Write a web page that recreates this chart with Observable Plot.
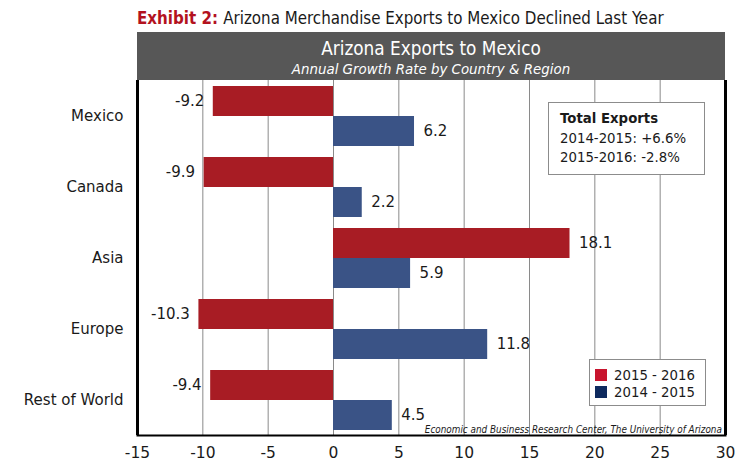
<!DOCTYPE html>
<html>
<head>
<meta charset="utf-8">
<script src="https://cdn.jsdelivr.net/npm/d3@7"></script>
<script src="https://cdn.jsdelivr.net/npm/@observablehq/plot@0.6"></script>
<style>
  body { margin: 0; background: #fff; width: 744px; height: 469px; position: relative; overflow: hidden; font-family: "DejaVu Sans", Verdana, sans-serif; color: #1a1a1a; }
  .cond { font-family: "DejaVu Sans Condensed", "DejaVu Sans", sans-serif; font-stretch: condensed; }
  #title { position: absolute; left: 137px; top: 8px; font-size: 16.8px; white-space: nowrap; }
  #title b { color: #b3121e; }
  #band { position: absolute; left: 137px; top: 32px; width: 588px; height: 48px; background: #575757; color: #fff; text-align: center; }
  #band .t { position: absolute; left: 0; right: 0; top: 6px; font-size: 18.8px; }
  #band .s { position: absolute; left: 0; right: 0; top: 30px; font-size: 13.4px; font-style: italic; }
  #chart { position: absolute; left: 0; top: 80px; }
  #totals { position: absolute; left: 548px; top: 102px; width: 157px; height: 73px; border: 1px solid #8c8c8c; background: #fff; font-size: 13.3px; line-height: 19.5px; box-sizing: border-box; padding: 6px 0 0 11px; white-space: nowrap; }
  #legend { position: absolute; left: 589px; top: 359px; width: 117px; height: 47px; border: 1px solid #8c8c8c; background: #fff; font-size: 13.3px; box-sizing: border-box; }
  #legend .row { position: absolute; left: 5px; height: 14px; display: flex; align-items: center; white-space: nowrap; }
  #legend .sw { width: 12px; height: 12px; margin-right: 7px; }
  #source { position: absolute; right: 22px; top: 423px; font-size: 11px; font-style: italic; white-space: nowrap; transform: scaleX(0.895); transform-origin: right center; }
</style>
</head>
<body>
<script>
// ---- data ----
const regions = ["Mexico", "Canada", "Asia", "Europe", "Rest of World"];
const series = ["2015 - 2016", "2014 - 2015"];
const growth2015_2016 = [-9.2, -9.9, 18.1, -10.3, -9.4];
const growth2014_2015 = [6.2, 2.2, 5.9, 11.8, 4.5];
const xTicks = [-15, -10, -5, 0, 5, 10, 15, 20, 25, 30];
const titleLead = "Exhibit 2:";
const titleText = "Arizona Merchandise Exports to Mexico Declined Last Year";
const headerTitle = "Arizona Exports to Mexico";
const headerSubtitle = "Annual Growth Rate by Country & Region";
const totalsHeading = "Total Exports";
const totalsLines = ["2014-2015: +6.6%", "2015-2016: -2.8%"];
const sourceText = "Economic and Business Research Center, The University of Arizona";
const barColors = ["#a81c24", "#3a5386"];
const legendColors = ["#c8142e", "#0e2a5e"];

const data = [];
regions.forEach((r, i) => {
  data.push({region: r, series: series[0], value: growth2015_2016[i]});
  data.push({region: r, series: series[1], value: growth2014_2015[i]});
});

// ---- HTML text ----
const title = document.createElement("div");
title.id = "title"; title.className = "cond";
const tb = document.createElement("b"); tb.textContent = titleLead + " ";
title.append(tb, document.createTextNode(titleText));
document.body.append(title);

const band = document.createElement("div");
band.id = "band";
const bt = document.createElement("div"); bt.className = "t cond"; bt.textContent = headerTitle;
const bs = document.createElement("div"); bs.className = "s"; bs.textContent = headerSubtitle;
band.append(bt, bs);
document.body.append(band);

// ---- chart ----
const chart = Plot.plot({
  width: 744,
  height: 389,
  marginTop: 0,
  marginBottom: 34,
  marginLeft: 137,
  marginRight: 19,
  style: {fontFamily: "'DejaVu Sans', Verdana, sans-serif", fontSize: "15px", color: "#1a1a1a", background: "transparent"},
  x: {domain: [-15, 30], ticks: xTicks},
  y: {domain: series, paddingInner: 0, paddingOuter: 0.164, axis: null},
  fy: {domain: regions, padding: 0},
  color: {domain: series, range: barColors},
  marks: [
    Plot.gridX(xTicks, {stroke: "#8a8a8a", strokeOpacity: 1}),
    Plot.barX(data, {fy: "region", y: "series", x: "value", fill: "series"}),
    Plot.text(data.filter(d => d.value < 0), {fy: "region", y: "series", x: "value", text: d => d.value.toFixed(1), textAnchor: "end", dx: -9, fontSize: 15}),
    Plot.text(data.filter(d => d.value >= 0), {fy: "region", y: "series", x: "value", text: d => d.value.toFixed(1), textAnchor: "start", dx: 9, fontSize: 15}),
    Plot.ruleX([-15, 30], {stroke: "#000", strokeWidth: 3}),
    Plot.frame({anchor: "bottom", facetAnchor: "bottom", stroke: "#000", strokeWidth: 2}),
    Plot.axisX({anchor: "bottom", ticks: xTicks, tickSize: 0, tickPadding: 11, label: null, fontSize: 15.5, tickFormat: d => String(d)}),
    Plot.axisFy({anchor: "left", label: null, tickSize: 0, tickPadding: 14, fontSize: 15})
  ]
});
const holder = document.createElement("div");
holder.id = "chart";
holder.append(chart);
document.body.append(holder);

// ---- annotation boxes ----
const totals = document.createElement("div");
totals.id = "totals";
const th = document.createElement("div"); th.style.fontWeight = "bold"; th.textContent = totalsHeading;
totals.append(th);
totalsLines.forEach(t => { const d = document.createElement("div"); d.textContent = t; totals.append(d); });
document.body.append(totals);

const legend = document.createElement("div");
legend.id = "legend";
series.forEach((s, i) => {
  const row = document.createElement("div"); row.className = "row";
  row.style.top = (i === 0 ? 8 : 25) + "px";
  const sw = document.createElement("div"); sw.className = "sw"; sw.style.background = legendColors[i];
  const lb = document.createElement("span"); lb.textContent = s;
  row.append(sw, lb);
  legend.append(row);
});
document.body.append(legend);

const src = document.createElement("div");
src.id = "source"; src.className = "cond"; src.textContent = sourceText;
document.body.append(src);
</script>
</body>
</html>
